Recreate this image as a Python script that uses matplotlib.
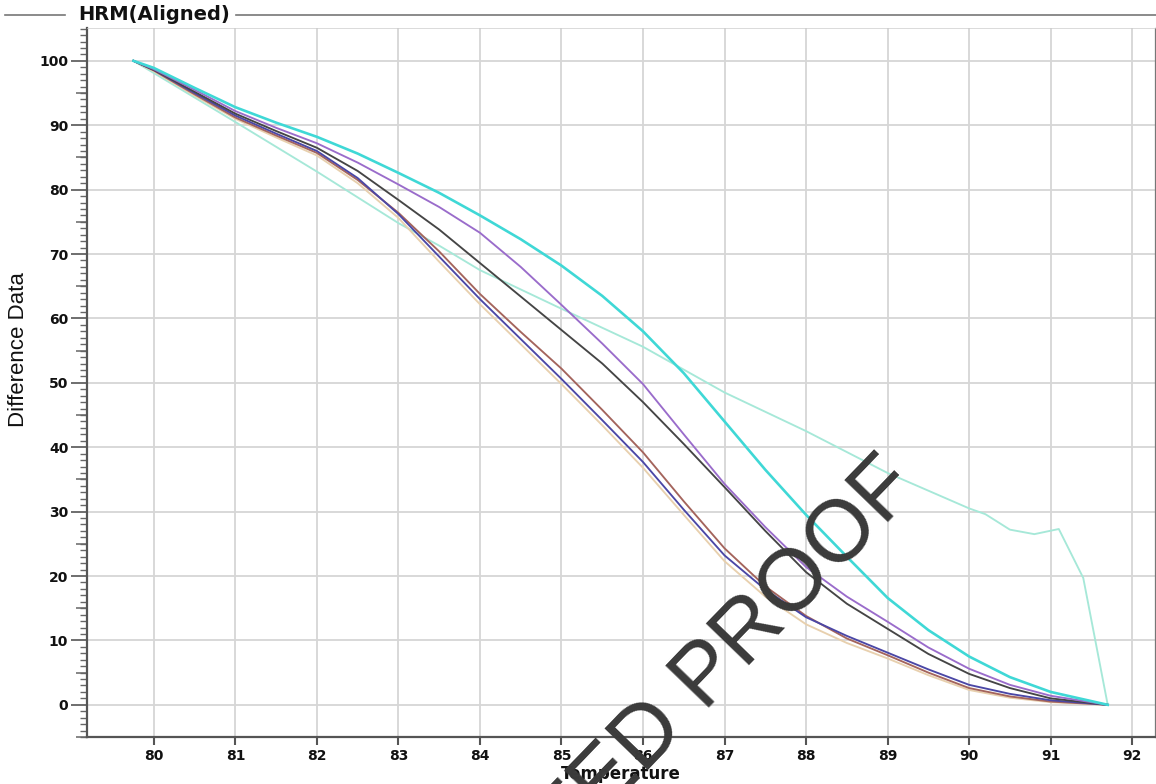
import matplotlib
matplotlib.use("Agg")
import matplotlib.pyplot as plt
from matplotlib.ticker import MultipleLocator
import matplotlib.lines as mlines
from matplotlib.font_manager import FontProperties

# ---------------- data ----------------
temp = [79.75, 80.0, 80.5, 81.0, 81.5, 82.0, 82.5, 83.0, 83.5, 84.0, 84.5, 85.0,
        85.5, 86.0, 86.5, 87.0, 87.5, 88.0, 88.5, 89.0, 89.5, 90.0, 90.5, 91.0, 91.7]

cyan_vals   = [100, 98.9, 95.8, 92.8, 90.4, 88.2, 85.6, 82.6, 79.5, 76.0, 72.3, 68.2,
               63.5, 58.0, 51.5, 44.0, 36.5, 29.5, 23.0, 16.6, 11.6, 7.5, 4.3, 2.0, 0]
purple_vals = [100, 98.7, 95.5, 92.2, 89.6, 87.2, 84.2, 80.8, 77.3, 73.3, 68.0, 62.1,
               56.1, 49.8, 42.0, 34.3, 27.6, 21.4, 16.8, 12.9, 8.9, 5.6, 3.1, 1.4, 0]
black_vals  = [100, 98.6, 95.2, 91.8, 89.1, 86.5, 82.9, 78.4, 73.8, 68.6, 63.4, 58.2,
               53.0, 47.0, 40.5, 33.8, 27.0, 20.6, 15.7, 11.8, 7.9, 4.8, 2.6, 1.0, 0]
navy_vals   = [100, 98.6, 95.0, 91.5, 88.7, 86.0, 81.8, 76.2, 69.6, 63.0, 56.8, 50.6,
               44.2, 37.7, 30.3, 23.2, 17.9, 13.6, 10.7, 8.1, 5.5, 3.1, 1.7, 0.7, 0]
brown_vals  = [100, 98.5, 94.8, 91.2, 88.4, 85.7, 81.5, 76.4, 70.4, 63.8, 57.9, 52.2,
               45.8, 39.2, 31.6, 24.3, 18.4, 13.8, 10.3, 7.7, 5.0, 2.6, 1.3, 0.5, 0]
tan_vals    = [100, 98.4, 94.6, 91.0, 88.1, 85.3, 81.0, 75.6, 68.8, 62.2, 56.0, 49.8,
               43.4, 36.8, 29.5, 22.3, 16.8, 12.5, 9.6, 7.2, 4.6, 2.3, 1.1, 0.4, 0]

aqua_temp = [79.75, 80.0, 81.0, 82.0, 83.0, 83.5, 84.0, 85.0, 86.0, 87.0, 88.0, 89.0,
             90.0, 90.2, 90.5, 90.8, 91.1, 91.4, 91.7]
aqua_vals = [100, 98.1, 90.5, 82.8, 74.8, 71.3, 67.5, 61.5, 55.6, 48.5, 42.5, 36.0,
             30.5, 29.6, 27.2, 26.5, 27.3, 19.7, 0]

x_ticks = [80, 81, 82, 83, 84, 85, 86, 87, 88, 89, 90, 91, 92]
y_ticks = [0, 10, 20, 30, 40, 50, 60, 70, 80, 90, 100]
y_mid_ticks = [-5, 5, 15, 25, 35, 45, 55, 65, 75, 85, 95]

# ---------------- figure ----------------
W, H = 1156, 784
fig = plt.figure(figsize=(W / 100, H / 100), dpi=100)
fig.patch.set_facecolor("white")

L, R, B, T = 87, 1155, 737, 28
ax = fig.add_axes([L / W, 1 - B / H, (R - L) / W, (B - T) / H])
ax.set_xlim(79.18, 92.28)
ax.set_ylim(-5, 105.1)

ax.set_xticks(x_ticks)
ax.set_yticks(y_ticks)
ax.grid(True, color="#d6d6d6", linewidth=1.3, zorder=0)
ax.set_axisbelow(True)

lw = 1.35
ax.plot(aqua_temp, aqua_vals, color="#a6e8d8", lw=lw, zorder=2)
ax.plot(temp, tan_vals, color="#e8d0ae", lw=lw, zorder=3)
ax.plot(temp, brown_vals, color="#a4645c", lw=lw, zorder=3)
ax.plot(temp, navy_vals, color="#4b47a6", lw=lw, zorder=4)
ax.plot(temp, black_vals, color="#454545", lw=lw, zorder=4)
ax.plot(temp, purple_vals, color="#9a6ccb", lw=lw, zorder=4)
ax.plot(temp, cyan_vals, color="#3fd8d6", lw=1.9, zorder=5)

for s in ["left", "bottom"]:
    ax.spines[s].set_color("#555555")
    ax.spines[s].set_linewidth(1.6)
ax.spines["right"].set_color("#777777")
ax.spines["right"].set_linewidth(0.9)
ax.spines["top"].set_color("#cccccc")
ax.spines["top"].set_linewidth(0.5)

tick_fp = FontProperties(family="DejaVu Sans", weight="bold", size=10)
ax.tick_params(axis="x", direction="out", length=5.8, width=1.5, color="#555555", pad=3,
               top=False)
ax.tick_params(axis="y", direction="out", length=11.5, width=1.2, color="#555555", pad=2,
               right=False)
ax.yaxis.set_minor_locator(MultipleLocator(1))
ax.tick_params(axis="y", which="minor", direction="out", length=5, width=1.0,
               color="#666666")
for lab in ax.get_xticklabels() + ax.get_yticklabels():
    lab.set_fontproperties(tick_fp)
    lab.set_color("#111111")

sec = ax.secondary_yaxis("left")
sec.set_yticks(y_mid_ticks)
sec.tick_params(axis="y", direction="out", length=8, width=1.1, color="#666666",
                labelleft=False)
sec.spines["left"].set_visible(False)

# axis labels
ax.set_xlabel("Temperature", fontsize=12, fontweight="bold", family="DejaVu Sans",
              labelpad=1, color="#111111")
fig.text(19 / W, 1 - 350 / H, "Difference Data", rotation=90, ha="center", va="center",
         fontsize=16, family="Liberation Sans", color="#111111")

# title with rule lines
fig.text(78 / W, 1 - 15 / H, "HRM(Aligned)", ha="left", va="center", fontsize=14,
         fontweight="bold", family="DejaVu Sans", color="#111111")
fig.add_artist(mlines.Line2D([5 / W, 65 / W], [1 - 15 / H, 1 - 15 / H], color="#777777",
                             lw=1.2, transform=fig.transFigure))
fig.add_artist(mlines.Line2D([236 / W, 1.0], [1 - 15 / H, 1 - 15 / H], color="#777777",
                             lw=1.2, transform=fig.transFigure))

# watermark
fig.text(920 / W, 1 - 488 / H, "UNCORRECTED PROOF", rotation=46, rotation_mode="anchor",
         ha="right", va="baseline", fontsize=63, family="Liberation Sans",
         color="#3a3a3a", zorder=10)

fig.savefig("out.png", dpi=100, facecolor="white")
